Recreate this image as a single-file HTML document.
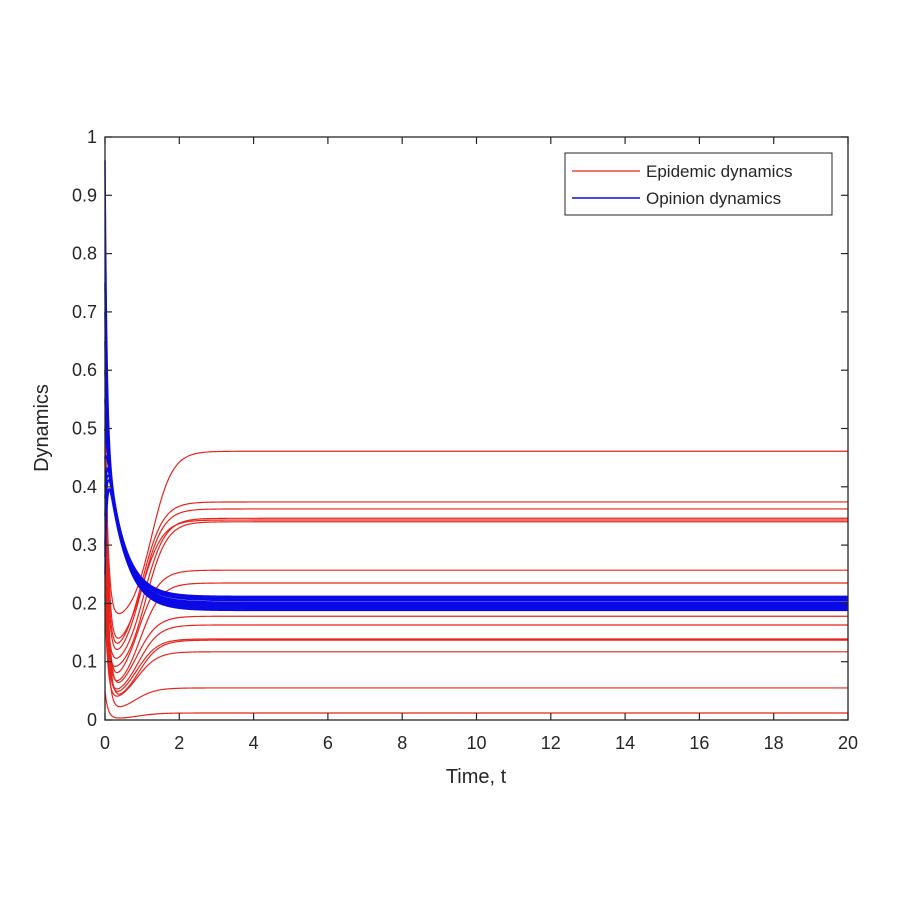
<!DOCTYPE html>
<html><head><meta charset="utf-8"><style>
body{margin:0;background:#fff}
svg{display:block;font-family:"Liberation Sans",sans-serif}
</style></head><body>
<svg id="s" width="908" height="908" xmlns="http://www.w3.org/2000/svg">
<rect width="908" height="908" fill="#fff"/>
<g id="curves"></g>
<rect x="105" y="137" width="743" height="583" fill="none" stroke="#262626" stroke-width="1.3"/>
<g id="ticks" stroke="#262626" stroke-width="1.2"></g>
<g id="lbl" font-size="18" fill="#262626"></g>
<text x="476" y="783" font-size="20" text-anchor="middle" fill="#262626">Time, t</text>
<text transform="translate(48,428) rotate(-90)" font-size="20" text-anchor="middle" fill="#262626">Dynamics</text>
<rect x="565" y="153" width="267" height="62" fill="#fff" stroke="#262626" stroke-width="1"/>
<line x1="572" y1="171" x2="640" y2="171" stroke="#e8231b" stroke-width="1.2"/>
<line x1="572" y1="198" x2="640" y2="198" stroke="#0a0ae6" stroke-width="1.6"/>
<text x="646" y="177" font-size="17" fill="#262626">Epidemic dynamics</text>
<text x="646" y="204" font-size="17" fill="#262626">Opinion dynamics</text>
</svg>
<script>
const X=t=>105+t*37.15, Y=v=>720-v*583;
const ns="http://www.w3.org/2000/svg";
const tk=document.getElementById('ticks'), lb=document.getElementById('lbl'), cv=document.getElementById('curves');
function el(p,n,a,txt){const e=document.createElementNS(ns,n);for(const k in a)e.setAttribute(k,a[k]);if(txt!==undefined)e.textContent=txt;p.appendChild(e);}
for(let i=0;i<=10;i++){const x=X(2*i);el(tk,'line',{x1:x,y1:720,x2:x,y2:713});el(tk,'line',{x1:x,y1:137,x2:x,y2:144});
 el(lb,'text',{x:x,y:749,'text-anchor':'middle'},String(2*i));}
for(let i=0;i<=10;i++){const y=Y(i/10);el(tk,'line',{x1:105,y1:y,x2:112,y2:y});el(tk,'line',{x1:848,y1:y,x2:841,y2:y});
 el(lb,'text',{x:97,y:y+6,'text-anchor':'end'},i==0?'0':i==10?'1':(i/10).toFixed(1));}
const reds=[[0.461,0.17,0.55,1.25],[0.374,0.11,0.5,1.0],[0.362,0.10,0.45,1.0],[0.346,0.09,0.3,1.05],[0.343,0.12,0.6,1.0],[0.34,0.08,0.2,1.1],
[0.257,0.06,0.4,0.9],[0.235,0.05,0.35,0.95],[0.178,0.045,0.5,0.85],[0.163,0.04,0.25,0.9],[0.139,0.035,0.3,0.85],[0.137,0.03,0.45,0.9],
[0.117,0.03,0.2,0.85],[0.055,0.015,0.3,0.8],[0.012,0.002,0.05,0.9]];
function path(f,c,w){let d='';for(let i=0;i<=800;i++){const t=i<300?i*0.01*0.1:0.3+(i-300)*(19.7/500);const v=f(t);d+=(i?'L':'M')+X(t).toFixed(2)+' '+Y(v).toFixed(2);}
 el(cv,'path',{d:d,fill:'none',stroke:c,'stroke-width':w});}
const S=(t,t0)=>{const w=0.28;const s0=1/(1+Math.exp(t0/w));return (1/(1+Math.exp(-(t-t0)/w))-s0)/(1-s0);};
reds.forEach(([f,m,r0,t0])=>path(t=>m+(f-m)*S(t,t0)+(r0-m)*Math.exp(-t/0.08),'#e8231b',1.2));
const blues=[[0.212,0.96],[0.208,0.75],[0.205,0.6],[0.202,0.5],[0.2,0.45],[0.198,0.4],[0.196,0.55],[0.194,0.35],[0.192,0.3],[0.19,0.7],[0.21,0.5],[0.2,0.65],[0.207,0.38],[0.188,0.45]];
blues.forEach(([f,b0])=>path(t=>{const base=f+(0.5-f)*Math.exp(-t/0.45);return base+(b0-0.5)*Math.exp(-t/0.05);},'#0a0ae6',1.5));
path(t=>{const base=0.2+(0.5-0.2)*Math.exp(-t/0.45);return base-0.25*Math.exp(-t/0.06);},'#0a0ae6',1.5);
path(t=>{const base=0.195+(0.48-0.195)*Math.exp(-t/0.45);return base-0.2*Math.exp(-t/0.05);},'#0a0ae6',1.5);
</script>
</body></html>
